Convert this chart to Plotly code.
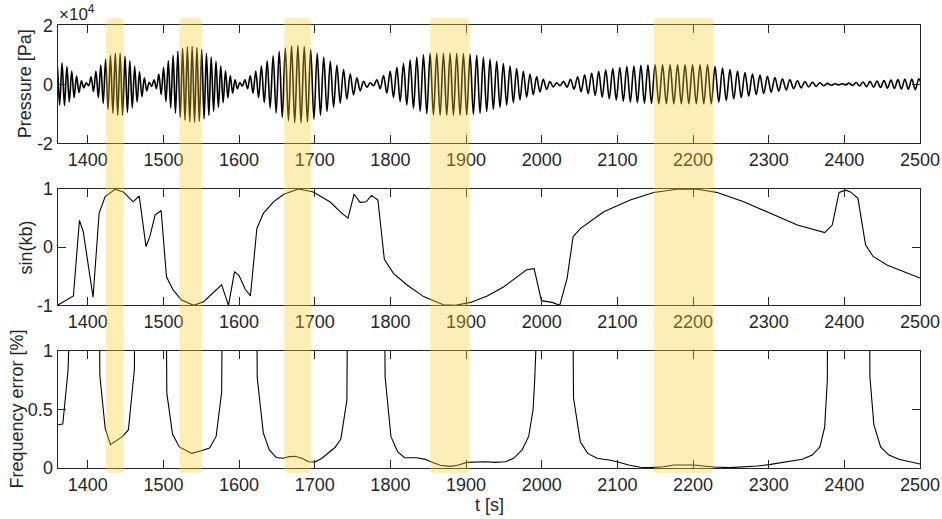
import plotly.graph_objects as go

# ---------------- data ----------------
# Pressure: one entry per oscillation cycle
p_start = 1358.0
p_period = [
    6.4, 6.4, 6.4, 6.4, 6.4, 6.4,
    6.4,
    6.4, 6.4, 6.4, 6.4, 6.4, 6.4, 6.4, 6.4, 6.4, 6.4, 6.4, 6.4,
    6.4,
    6.3, 6.3, 6.3, 6.3, 6.3, 6.3, 6.3, 6.3, 6.3, 6.3, 6.3, 6.3, 6.3, 6.3, 6.3, 6.3, 6.3, 6.3,
    6.6,
    7.0, 7.2, 7.4, 7.6, 7.8, 8.0, 8.1, 8.2, 8.3, 8.4, 8.5, 8.6, 8.6, 8.7, 8.7, 8.8, 8.8, 8.8, 8.8, 8.8,
    8.8,
    8.8, 8.8, 8.8, 8.8, 8.8, 8.8, 8.8, 8.8, 8.8, 8.8, 8.8, 8.8, 8.8, 8.8, 8.8, 8.8, 8.8, 8.8,
    8.8, 8.8, 8.8, 8.8, 8.8, 8.8, 8.8, 8.8, 8.8,
    9.0,
    9.3, 9.3, 9.3, 9.3, 9.3, 9.3, 9.3, 9.3, 9.3, 9.3, 9.3, 9.3, 9.3,
    9.9, 9.9, 9.9, 9.9, 9.9, 9.9, 9.9, 9.9, 9.9, 9.9, 9.9, 9.9, 9.9, 9.9, 9.9, 9.9, 9.9,
    9.9, 9.9, 9.9, 9.9, 9.9, 9.9, 9.9, 9.9,
    9.2, 9.2, 9.2, 9.2, 9.2, 9.2, 9.2, 9.2, 9.2, 9.2, 9.2, 9.2,
]
p_amp = [  # Pa
    7000, 7200, 6000, 4500, 2800, 1200,
    500,
    2500, 4500, 6500, 8500, 9800, 10500, 10500, 9500, 8000, 6000, 4200, 2200,
    700,
    1500, 3500, 5800, 8000, 9800, 11200, 12200, 12700, 12800, 12500, 11700, 10500, 9200, 7800,
    6200, 4600, 3000, 1500,
    600,
    1500, 3000, 4500, 6200, 8000, 9700, 11200, 12300, 13000, 13100, 12800, 11800, 10500, 9200,
    7800, 6400, 5000, 3600, 2200, 1000,
    500,
    1500, 3000, 4500, 5800, 7000, 8200, 9200, 10000, 10400, 10500, 10500, 10500, 10500, 10400,
    10200, 9800, 9200, 8500, 7800, 7000, 6200, 5300, 4400, 3500, 2600, 1700, 900,
    500,
    1000, 1700, 2500, 3200, 3800, 4400, 4900, 5300, 5700, 6000, 6200, 6400, 6500,
    6600, 6600, 6600, 6600, 6600, 6600, 6600, 6600, 6000, 5500, 5000, 4500, 4000, 3500, 3100,
    2700, 2300, 1900, 1500, 1200, 900, 700, 500, 300, 200,
    200, 400, 600, 800, 1000, 1100, 1300, 1400, 1600, 1700, 1800, 1900,
]

# sin(kb)
sin_t = [1360, 1381, 1389, 1394, 1407, 1415, 1423, 1436, 1447, 1460, 1468, 1477, 1482, 1489,
         1497, 1504, 1513, 1524, 1540, 1553, 1566, 1577, 1586, 1594, 1600, 1608, 1615, 1623.5,
         1632, 1645.5, 1659, 1678.5, 1698, 1720, 1736, 1744, 1752, 1760, 1768, 1775, 1783.5,
         1792, 1804, 1822, 1844, 1870, 1886, 1906, 1928, 1950, 1980, 1990, 1999.6, 2013.7,
         2023.8, 2033.5, 2041.5, 2051, 2082, 2117, 2148, 2179, 2205.5, 2232, 2267, 2302.5,
         2338, 2374, 2384, 2393, 2402, 2408, 2418, 2428, 2438, 2457, 2500]
sin_v = [-1.0, -0.84, 0.46, 0.27, -0.86, 0.58, 0.87, 0.995, 0.95, 0.78, 0.88, 0.01, 0.18, 0.55,
         0.63, -0.51, -0.74, -0.91, -1.0, -0.94, -0.78, -0.65, -1.0, -0.42, -0.49, -0.72, -0.84,
         0.32, 0.58, 0.78, 0.91, 1.0, 0.95, 0.78, 0.58, 0.5, 0.91, 0.77, 0.78, 0.89, 0.81,
         -0.21, -0.45, -0.65, -0.85, -0.99, -1.0, -0.95, -0.84, -0.68, -0.39, -0.37, -0.92,
         -0.95, -1.0, -0.54, 0.18, 0.32, 0.61, 0.81, 0.94, 0.995, 0.995, 0.94, 0.78, 0.58,
         0.38, 0.25, 0.38, 0.94, 0.98, 0.95, 0.84, 0.04, -0.16, -0.31, -0.53]

# Frequency error [%] (values above 1 run off the top of the axes)
fe_t = [1360, 1367, 1374, 1382, 1408, 1416, 1423, 1430, 1446, 1453.7, 1461.6, 1469, 1497,
        1504.5, 1512, 1521, 1537.5, 1551, 1561, 1569.7, 1577, 1584, 1617, 1624, 1632, 1640,
        1649, 1658, 1666.6, 1674, 1683, 1692, 1700.6, 1709.5, 1718, 1727, 1734.6, 1742.5,
        1750, 1786, 1793, 1800.7, 1809.5, 1818.7, 1835, 1846, 1857, 1866, 1879, 1890, 1901,
        1912, 1925.5, 1938.7, 1952, 1963, 1974, 1982.8, 1988.6, 1990.7, 1996, 2035, 2042,
        2051, 2060.8, 2073, 2088.6, 2099.7, 2115, 2130.5, 2146, 2161, 2174.6, 2187.8, 2201,
        2214, 2227.5, 2249.6, 2271.7, 2285, 2302.5, 2324.6, 2344.4, 2357.6, 2367.7, 2374,
        2377.5, 2382, 2428, 2433.8, 2439, 2448, 2459, 2472, 2500]
fe_v = [0.37, 0.376, 0.84, 8, 8, 0.79, 0.34, 0.2, 0.27, 0.325, 0.84, 8, 8,
        0.64, 0.29, 0.18, 0.125, 0.15, 0.17, 0.27, 0.65, 8, 8, 0.77, 0.30, 0.154,
        0.09, 0.083, 0.097, 0.1, 0.083, 0.054, 0.051, 0.083, 0.125, 0.177, 0.25, 0.58,
        8, 8, 0.78, 0.27, 0.14, 0.088, 0.088, 0.074, 0.045, 0.023, 0.014, 0.026, 0.048,
        0.05, 0.054, 0.048, 0.054, 0.083, 0.154, 0.27, 0.5, 0.75, 8, 8, 0.6,
        0.225, 0.125, 0.083, 0.068, 0.054, 0.026, 0.006, 0.003, 0.011, 0.026, 0.026, 0.026,
        0.017, 0.008, 0.003, 0.011, 0.017, 0.031, 0.051, 0.074, 0.11, 0.18, 0.35,
        0.75, 8, 8, 0.78, 0.37, 0.18, 0.11, 0.074, 0.034]

# highlighted windows [s]
band_start = [1424.2, 1521.1, 1659.6, 1852.7, 2148.1]
band_end = [1447.5, 1550.7, 1694.9, 1904.7, 2226.7]

x_ticks = [1400, 1500, 1600, 1700, 1800, 1900, 2000, 2100, 2200, 2300, 2400, 2500]

# ---------------- build pressure trace (extrema of each cycle) ----------------
pt, pv = [p_start], [0.0]
t = p_start
for P, A in zip(p_period, p_amp):
    pt.append(t + P / 4.0); pv.append(A)
    pt.append(t + 3.0 * P / 4.0); pv.append(-A)
    t += P

W, H = 942, 519
def px_x(x): return x / W
def px_y(y): return (H - y) / H

FONT = "Liberation Sans, Arial, Helvetica, sans-serif"
TXT = "#262626"

fig = go.Figure()
fig.add_trace(go.Scatter(x=pt, y=pv, mode="lines", xaxis="x", yaxis="y",
                         line=dict(color="black", width=1.6, shape="spline", smoothing=1.0),
                         showlegend=False, hoverinfo="skip"))
fig.add_trace(go.Scatter(x=sin_t, y=sin_v, mode="lines", xaxis="x2", yaxis="y2",
                         line=dict(color="black", width=1.1),
                         showlegend=False, hoverinfo="skip"))
fig.add_trace(go.Scatter(x=fe_t, y=fe_v, mode="lines", xaxis="x3", yaxis="y3",
                         line=dict(color="black", width=1.1),
                         showlegend=False, hoverinfo="skip"))

xdom = [px_x(57.5), px_x(920)]
ax_common = dict(showline=True, linecolor=TXT, linewidth=1, mirror="ticks",
                 ticks="inside", ticklen=8, tickwidth=1, tickcolor=TXT,
                 showgrid=False, zeroline=False, automargin=False,
                 tickfont=dict(family=FONT, size=18, color=TXT))

xa = dict(ax_common, range=[1360, 2500], tickvals=x_ticks, domain=xdom)
fig.update_layout(
    width=W, height=H, margin=dict(l=0, r=0, t=0, b=0, pad=0, autoexpand=False),
    autosize=False,
    paper_bgcolor="white", plot_bgcolor="white",
    xaxis=dict(xa, anchor="y"),
    xaxis2=dict(xa, anchor="y2"),
    xaxis3=dict(xa, anchor="y3"),
    yaxis=dict(ax_common, anchor="x", range=[-20000, 20000], tickvals=[-20000, 0, 20000],
               ticktext=["-2", "0", "2"], domain=[px_y(143.3), px_y(25.3)]),
    yaxis2=dict(ax_common, anchor="x2", range=[-1, 1], tickvals=[-1, 0, 1],
                ticktext=["-1", "0", "1"], domain=[px_y(305.3), px_y(189)]),
    yaxis3=dict(ax_common, anchor="x3", range=[0, 1], tickvals=[0, 0.5, 1],
                ticktext=["0", "0.5", "1"], domain=[px_y(468), px_y(351)]),
)

# highlight windows: rounded translucent rectangles spanning all panels
ry = 4.0 / H
rx = 5.0
y0, y1 = px_y(473), px_y(18)
for a, b in zip(band_start, band_end):
    path = (f"M {a+rx},{y0} L {b-rx},{y0} Q {b},{y0} {b},{y0+ry} "
            f"L {b},{y1-ry} Q {b},{y1} {b-rx},{y1} L {a+rx},{y1} "
            f"Q {a},{y1} {a},{y1-ry} L {a},{y0+ry} Q {a},{y0} {a+rx},{y0} Z")
    fig.add_shape(type="path", path=path, xref="x", yref="paper",
                  fillcolor="rgba(248,206,50,0.35)", line=dict(width=0), layer="above")

ann_font = dict(family=FONT, size=18, color=TXT)
fig.add_annotation(text="Pressure [Pa]", x=px_x(25.3), y=px_y(84), xref="paper", yref="paper",
                   textangle=-90, showarrow=False, font=ann_font, xanchor="center", yanchor="middle")
fig.add_annotation(text="sin(kb)", x=px_x(26.3), y=px_y(247.2), xref="paper", yref="paper",
                   textangle=-90, showarrow=False, font=ann_font, xanchor="center", yanchor="middle")
fig.add_annotation(text="Frequency error [%]", x=px_x(16), y=px_y(409.5), xref="paper", yref="paper",
                   textangle=-90, showarrow=False, font=ann_font, xanchor="center", yanchor="middle")
fig.add_annotation(text="t [s]", x=px_x(489), y=px_y(505), xref="paper", yref="paper",
                   showarrow=False, font=ann_font, xanchor="center", yanchor="middle")
fig.add_annotation(text="×10<sup>4</sup>", x=px_x(57), y=px_y(26), xref="paper", yref="paper",
                   showarrow=False, font=dict(family=FONT, size=17, color=TXT),
                   xanchor="left", yanchor="bottom")

fig.write_html("out.html")
